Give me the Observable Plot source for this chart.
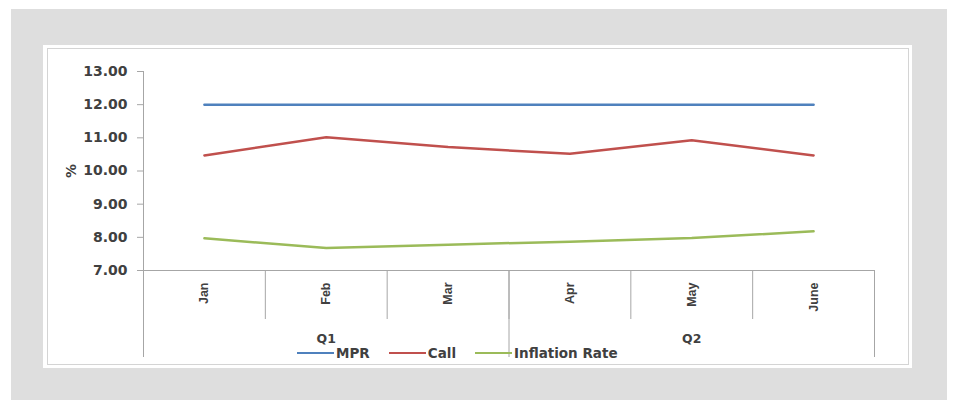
<!DOCTYPE html>
<html>
<head>
<meta charset="utf-8">
<script src="https://cdn.jsdelivr.net/npm/d3@7"></script>
<script src="https://cdn.jsdelivr.net/npm/@observablehq/plot@0.6"></script>
<style>
  body { margin: 0; background: #fff; }
  #wrap { position: relative; width: 955px; height: 400px; overflow: hidden; }
  #backdrop { position: absolute; left: 11px; top: 9px; width: 936px; height: 391px; background: #dedede; }
  #card { position: absolute; left: 43px; top: 45px; width: 869px; height: 323px; background: #fff; }
  #card-inner { position: absolute; left: 4px; top: 3px; right: 3px; bottom: 3px; border: 1px solid #d4d4d4; }
  #chart { position: absolute; left: 0; top: 0; }
  #legend { position: absolute; left: 297px; top: 345px; display: flex; align-items: center;
            font: bold 13.5px "DejaVu Sans", Verdana, sans-serif; color: #404040; }
  #legend .item { display: flex; align-items: center; margin-right: 19px; }
  #legend .swatch { width: 37px; height: 2.2px; margin-right: 2px; }
</style>
</head>
<body>
<div id="wrap">
  <div id="backdrop"></div>
  <div id="card"><div id="card-inner"></div></div>
  <div id="chart"></div>
  <div id="legend"></div>
</div>
<script>
// Monthly rates, first half of the year (%)
const months = ["Jan", "Feb", "Mar", "Apr", "May", "June"];
const quarters = ["Q1", "Q2"];
const mpr = [12.00, 12.00, 12.00, 12.00, 12.00, 12.00];
const call = [10.47, 11.02, 10.72, 10.52, 10.93, 10.47];
const inflation = [7.97, 7.68, 7.78, 7.87, 7.98, 8.18];
const seriesNames = ["MPR", "Call", "Inflation Rate"];
const seriesColors = ["#4f81bd", "#c0504d", "#9bbb59"];
const yTicks = [7, 8, 9, 10, 11, 12, 13];

// Long table: one row per month per series; x is the month's band centre
const seriesValues = [mpr, call, inflation];
const rows = seriesNames.flatMap((name, s) =>
  seriesValues[s].map((v, i) => ({series: name, month: months[i], pos: i + 0.5, value: v}))
);

const axisGrey = "#a6a6a6";
const textColor = "#404040";
const boldSans = "'DejaVu Sans', Verdana, sans-serif";
const narrowSans = "'Liberation Sans Narrow', 'Arial Narrow', 'Liberation Sans', Arial, sans-serif";

const monthCentres = months.map((m, i) => i + 0.5);
const monthEdges = d3.range(months.length + 1);
const quarterEdges = d3.range(0, months.length + 1, 3);
const quarterCentres = quarters.map((q, i) => i * 3 + 1.5);

const chart = Plot.plot({
  width: 955,
  height: 400,
  marginLeft: 143,
  marginRight: 81,
  marginTop: 71,
  marginBottom: 130,
  style: {background: "transparent", overflow: "visible"},
  x: {domain: [0, months.length], axis: null},
  y: {domain: [7, 13], axis: null},
  color: {domain: seriesNames, range: seriesColors},
  marks: [
    // value axis
    Plot.ruleX([0], {y1: 7, y2: 13, stroke: axisGrey}),
    Plot.axisY(yTicks, {
      anchor: "left",
      tickSize: 6,
      tickPadding: 10,
      tickFormat: d3.format(".2f"),
      stroke: axisGrey,
      fill: textColor,
      fontSize: 14,
      fontWeight: "bold",
      fontFamily: boldSans,
      label: "%",
      labelAnchor: "center",
      labelArrow: "none",
      labelOffset: 77
    }),
    // category axis: month cells and quarter groups
    Plot.ruleY([7], {stroke: axisGrey}),
    Plot.axisX(monthEdges, {anchor: "bottom", tickSize: 49, tickFormat: () => "", stroke: axisGrey, label: null}),
    Plot.axisX(quarterEdges, {anchor: "bottom", tickSize: 87, tickFormat: () => "", stroke: axisGrey, label: null}),
    Plot.axisX(monthCentres, {
      anchor: "bottom",
      tickSize: 0,
      tickPadding: 12,
      tickRotate: -90,
      tickFormat: (d) => months[Math.floor(d)],
      fill: textColor,
      fontSize: 12.5,
      fontWeight: "bold",
      fontFamily: narrowSans,
      label: null
    }),
    Plot.axisX(quarterCentres, {
      anchor: "bottom",
      tickSize: 0,
      tickPadding: 64,
      tickFormat: (d) => quarters[Math.floor(d / 3)],
      fill: textColor,
      fontSize: 12.5,
      fontWeight: "bold",
      fontFamily: boldSans,
      label: null
    }),
    // series
    Plot.line(rows, {x: "pos", y: "value", z: "series", stroke: "series", strokeWidth: 2.5})
  ]
});
document.getElementById("chart").appendChild(chart);

// legend below the category axis
const legend = d3.select("#legend");
seriesNames.forEach((name, i) => {
  const item = legend.append("div").attr("class", "item");
  item.append("div").attr("class", "swatch").style("background", seriesColors[i]);
  item.append("span").text(name);
});
</script>
</body>
</html>
